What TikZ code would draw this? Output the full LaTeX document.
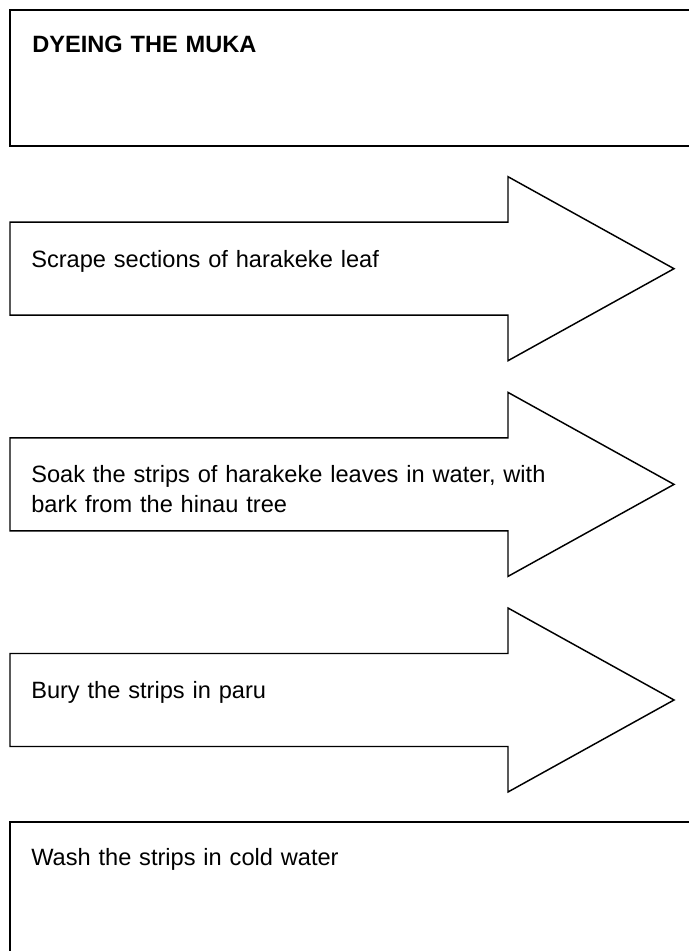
\documentclass[tikz,border=0pt]{standalone}
\usepackage{fontspec}
\setmainfont{Liberation Sans}
\usetikzlibrary{positioning}

\begin{document}
\begin{tikzpicture}[
  x=0.75pt, y=0.75pt,
  every node/.style={font=\fontsize{17.7}{22.5}\selectfont},
  box/.style={draw=black, line width=1.6pt},
  stepline/.style={draw=black, line width=1.1pt, line join=miter},
  steptext/.style={anchor=base west, inner sep=0pt, align=left, text width=540pt}
]
\useasboundingbox (0,0) rectangle (689,951);
\clip (0,0) rectangle (689,951);
% title box
\draw[box] (10,805) rectangle (710,941);
\node[steptext] (title) at (32,898) {\bfseries DYEING THE MUKA};
% the three steps
\foreach \n/\yc/\txt in {1/682.3/{Scrape sections of harakeke leaf},
                         2/466.6/{Soak the strips of harakeke leaves in water, with\\bark from the hinau tree},
                         3/251/{Bury the strips in paru}}{
  \draw[stepline] (10,\yc-46.5) -- (508,\yc-46.5) -- (508,\yc-92) -- (674,\yc)
    -- (508,\yc+92) -- (508,\yc+46.5) -- (10,\yc+46.5) -- cycle;
  \node[steptext] (step\n) at (31,\yc+1.5) {\txt};
}
% last box
\draw[box] (10,-20) rectangle (710,129);
\node[steptext] (wash) at (31,85) {Wash the strips in cold water};
\end{tikzpicture}
\end{document}
